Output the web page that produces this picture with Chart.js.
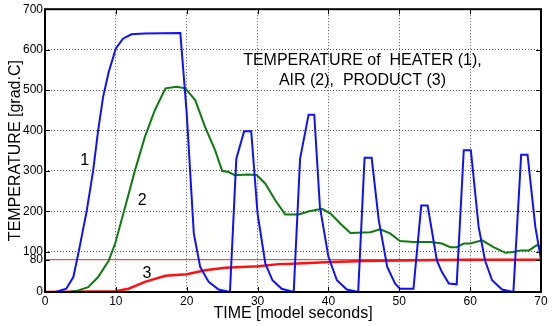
<!DOCTYPE html>
<html>
<head>
<meta charset="utf-8">
<script src="https://cdn.jsdelivr.net/npm/chart.js@4.4.1/dist/chart.umd.min.js"></script>
<style>
  html, body { margin: 0; padding: 0; background: #fff; }
  #wrap { width: 552px; height: 326px; }
</style>
</head>
<body>
<div id="wrap"><canvas id="tempChart"></canvas></div>
<script>
// heater (1)
const heaterTime = [0, 1.5, 3.0, 4.0, 4.7, 5.9, 6.8, 7.5, 8.2, 9.0, 10.0, 11.0, 12.2, 14.0, 19.1,
  20.0, 21.0, 21.9, 23.1, 24.5, 26.1, 27.0, 28.1, 29.1, 30.0, 31.1, 32.1, 33.4, 35.1,
  36.0, 37.2, 38.0, 38.8, 40.0, 41.2, 42.6, 44.2, 45.1, 46.1, 47.1, 48.3, 49.4, 50.1, 52.0,
  53.1, 54.0, 55.3, 56.0, 57.0, 58.1, 59.1, 60.1, 61.2, 62.1, 63.1, 64.5, 66.1,
  67.2, 68.1, 69.2, 70.0];
const heaterTemp = [0, 0, 8, 37, 95, 202, 301, 400, 483, 545, 603, 627, 638, 640, 641,
  442, 145, 62, 25, 6, 0, 330, 398, 398, 194, 70, 29, 8, 0,
  330, 439, 439, 210, 87, 29, 6, 0, 332, 332, 178, 62, 21, 8, 8,
  214, 214, 78, 50, 21, 19, 351, 351, 161, 78, 29, 6, 0,
  340, 340, 161, 80];

// air (2)
const airTime = [0, 3.5, 4.7, 6.1, 7.5, 9.0, 9.9, 11.3, 12.7, 14.1, 15.5, 17.0, 18.6, 19.8, 21.2,
  22.6, 24.0, 25.0, 25.9, 26.8, 28.7, 29.9, 31.1, 32.5, 33.9, 35.8, 37.3, 39.1, 40.3, 41.7,
  43.1, 45.9, 47.3, 48.7, 50.1, 52.0, 54.4, 56.0, 57.2, 58.1, 59.1, 60.0, 61.7, 63.3, 65.0,
  66.1, 67.1, 68.3, 69.4, 70.0];
const airTemp = [0, 0, 4, 12, 37, 78, 120, 210, 301, 384, 450, 504, 508, 504, 475,
  408, 351, 300, 297, 289, 291, 289, 268, 227, 192, 192, 200, 206, 194, 169,
  146, 148, 155, 145, 126, 124, 124, 120, 111, 111, 120, 120, 128, 111, 97,
  99, 103, 103, 116, 111];

// product (3)
const productTime = [0, 9.9, 11.8, 14.1, 17.0, 20.0, 22.6, 25.4, 30.1, 33.0, 35.0, 40.3, 45.0, 50.1, 55.0, 60.0, 70.0];
const productTemp = [0, 2, 8, 25, 40, 44, 54, 60, 64, 69, 70, 74, 77, 78, 79, 80, 80];

// product set point
const setTime = [0, 70];
const setTemp = [80, 80];

const xTicks = [0, 10, 20, 30, 40, 50, 60, 70];
const yTicks = [0, 80, 100, 200, 300, 400, 500, 600, 700];

const curveLabels = ['1', '2', '3'];
const curveLabelTime = [5.6, 13.7, 14.4];
const curveLabelTemp = [326, 227, 46];

const noteLines = ['TEMPERATURE of  HEATER (1),', 'AIR (2),  PRODUCT (3)'];
const noteTime = 44.8;
const noteTemp = [574, 524];

const FONT = '"Liberation Sans", Arial, sans-serif';

function pairs(xs, ys) {
  return xs.map((x, i) => ({ x: x, y: ys[i] }));
}

// box, inward tick marks and text notes, matlab style
const framePlugin = {
  id: 'frame',
  afterDatasetsDraw(chart) {
    const ctx = chart.ctx;
    const a = chart.chartArea;
    const xs = chart.scales.x, ys = chart.scales.y;
    ctx.save();
    ctx.strokeStyle = '#000';
    ctx.lineWidth = 2;
    ctx.strokeRect(a.left, a.top, a.right - a.left, a.bottom - a.top);
    ctx.lineWidth = 1;
    ctx.beginPath();
    xTicks.forEach(v => {
      const px = Math.round(xs.getPixelForValue(v)) + 0.5;
      ctx.moveTo(px, a.bottom); ctx.lineTo(px, a.bottom - 5);
      ctx.moveTo(px, a.top); ctx.lineTo(px, a.top + 5);
    });
    yTicks.forEach(v => {
      const py = Math.round(ys.getPixelForValue(v)) + 0.5;
      ctx.moveTo(a.left, py); ctx.lineTo(a.left + 5, py);
      ctx.moveTo(a.right, py); ctx.lineTo(a.right - 5, py);
    });
    ctx.stroke();

    ctx.fillStyle = '#000';
    ctx.font = '16px ' + FONT;
    ctx.textAlign = 'center';
    ctx.textBaseline = 'middle';
    curveLabels.forEach((t, i) => {
      ctx.fillText(t, xs.getPixelForValue(curveLabelTime[i]), ys.getPixelForValue(curveLabelTemp[i]));
    });
    noteLines.forEach((t, i) => {
      ctx.fillText(t, xs.getPixelForValue(noteTime), ys.getPixelForValue(noteTemp[i]));
    });
    ctx.restore();
  }
};

const gridColor = (c) => {
  const v = c.tick ? c.tick.value : null;
  if (c.scale.axis === 'y' && (v === 0 || v === 80 || v === 700)) return 'rgba(0,0,0,0)';
  if (c.scale.axis === 'x' && (v === 0 || v === 70)) return 'rgba(0,0,0,0)';
  return '#555555';
};

new Chart(document.getElementById('tempChart'), {
  type: 'line',
  data: {
    datasets: [
      {
        label: 'Heater (1)',
        data: pairs(heaterTime, heaterTemp),
        borderColor: '#1010ff',
        borderWidth: 2,
        pointRadius: 0,
        tension: 0,
        order: 0
      },
      {
        label: 'Air (2)',
        data: pairs(airTime, airTemp),
        borderColor: '#0f7a0f',
        borderWidth: 2,
        pointRadius: 0,
        tension: 0,
        order: 1
      },
      {
        label: 'Product (3)',
        data: pairs(productTime, productTemp),
        borderColor: '#ff1010',
        borderWidth: 2.5,
        pointRadius: 0,
        tension: 0,
        order: 2
      },
      {
        label: 'Set point',
        data: pairs(setTime, setTemp),
        borderColor: '#ff2020',
        borderWidth: 1,
        pointRadius: 0,
        order: 3
      }
    ]
  },
  options: {
    responsive: true,
    maintainAspectRatio: false,
    animation: false,
    devicePixelRatio: 1,
    layout: { padding: { top: 9, right: 11, left: 0, bottom: 0 } },
    plugins: {
      legend: { display: false },
      tooltip: { enabled: false }
    },
    scales: {
      x: {
        type: 'linear',
        min: 0,
        max: 70,
        afterBuildTicks: (s) => { s.ticks = xTicks.map(v => ({ value: v })); },
        afterFit: (s) => { s.height = 34; },
        ticks: { color: '#000', font: { family: FONT, size: 12 }, padding: 2, maxRotation: 0, autoSkip: false },
        grid: { color: gridColor, lineWidth: 1, drawTicks: false },
        border: { display: false, dash: [1, 2] },
        title: {
          display: true,
          text: 'TIME [model seconds]',
          color: '#000',
          font: { family: FONT, size: 16 },
          padding: { top: 0, bottom: 3 }
        }
      },
      y: {
        type: 'linear',
        min: 0,
        max: 700,
        afterBuildTicks: (s) => { s.ticks = yTicks.map(v => ({ value: v })); },
        afterFit: (s) => { s.width = 45; },
        ticks: { color: '#000', font: { family: FONT, size: 12 }, padding: 2, autoSkip: false },
        grid: { color: gridColor, lineWidth: 1, drawTicks: false },
        border: { display: false, dash: [1, 2] },
        title: {
          display: true,
          text: 'TEMPERATURE [grad.C]',
          color: '#000',
          font: { family: FONT, size: 16 },
          padding: { top: 6, bottom: 0 }
        }
      }
    }
  },
  plugins: [framePlugin]
});
</script>
</body>
</html>
